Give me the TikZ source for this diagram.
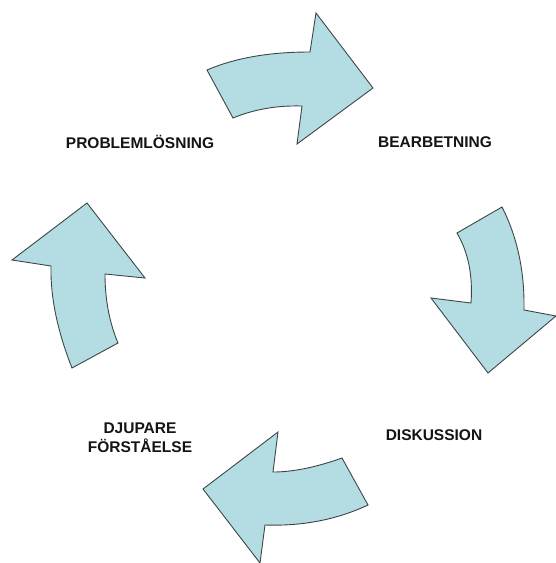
\documentclass[tikz,border=0pt]{standalone}
\usepackage{fontspec}
\setmainfont{Liberation Sans}
\definecolor{arrowfill}{RGB}{180,221,227}
\definecolor{arrowline}{RGB}{60,70,72}
\definecolor{txt}{RGB}{20,20,20}
\begin{document}
\begin{tikzpicture}[x=1pt,y=-1pt,
  bigarrow/.style={fill=arrowfill,draw=arrowline,line width=0.9pt,line join=miter},
  label/.style={font=\fontsize{15.5}{19}\selectfont\bfseries,text=txt,align=center,inner sep=0pt}]
\useasboundingbox (0,0) rectangle (556,563);
% top arrow (to the right)
\draw[bigarrow] (207,70) .. controls (235,58) and (269,52) .. (310,52) -- (316,13) -- (373,88) -- (297,144) -- (302,106)
  .. controls (277,105.3) and (254,109.3) .. (233,118) -- cycle;
% right arrow (downwards)
\draw[bigarrow] (457,233) .. controls (468.3,252.3) and (473,275.7) .. (471,303) -- (431,298) -- (488,373) -- (556,316) -- (524,310)
  .. controls (524.7,271.3) and (517.3,237) .. (502,207) -- cycle;
% bottom arrow (to the left)
\draw[bigarrow] (342,458) .. controls (316,467.3) and (293,472) .. (273,472) -- (278,432) -- (203,489) -- (260,563) -- (265,525)
  .. controls (302.3,526.3) and (336.7,519.7) .. (368,505) -- cycle;
% left arrow (upwards)
\draw[bigarrow] (72,368) .. controls (57.3,330.7) and (50.3,296.7) .. (51,266) -- (12,260) -- (87,203) -- (145,278) -- (105,274)
  .. controls (105,299.3) and (109.3,322.3) .. (118,343) -- cycle;
% labels
\node[label] (prob) at (140,142) {PROBLEMLÖSNING};
\node[label] (bear) at (435,142) {BEARBETNING};
\node[label] (disk) at (434,435) {DISKUSSION};
\node[label] (djup) at (140,438) {DJUPARE\\FÖRSTÅELSE};
\end{tikzpicture}
\end{document}
